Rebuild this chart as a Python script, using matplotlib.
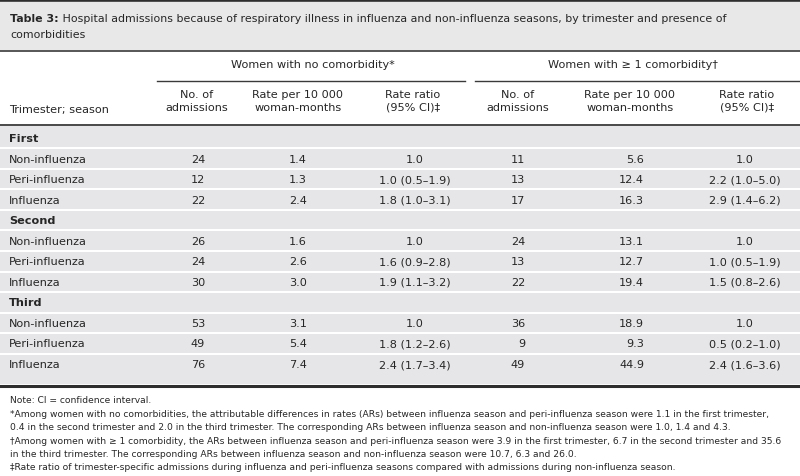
import matplotlib
matplotlib.use("Agg")
import matplotlib.pyplot as plt
from matplotlib.patches import Rectangle

# --- table content ---
trimesters = ["First", "Second", "Third"]
seasons = ["Non-influenza", "Peri-influenza", "Influenza"]

no_com_adm = [24, 12, 22, 26, 24, 30, 53, 49, 76]
no_com_rate = [1.4, 1.3, 2.4, 1.6, 2.6, 3.0, 3.1, 5.4, 7.4]
no_com_rr = ["1.0", "1.0 (0.5–1.9)", "1.8 (1.0–3.1)",
             "1.0", "1.6 (0.9–2.8)", "1.9 (1.1–3.2)",
             "1.0", "1.8 (1.2–2.6)", "2.4 (1.7–3.4)"]

com_adm = [11, 13, 17, 24, 13, 22, 36, 9, 49]
com_rate = [5.6, 12.4, 16.3, 13.1, 12.7, 19.4, 18.9, 9.3, 44.9]
com_rr = ["1.0", "2.2 (1.0–5.0)", "2.9 (1.4–6.2)",
          "1.0", "1.0 (0.5–1.9)", "1.5 (0.8–2.6)",
          "1.0", "0.5 (0.2–1.0)", "2.4 (1.6–3.6)"]

title_bold = "Table 3:"
title_rest = (" Hospital admissions because of respiratory illness in influenza and "
              "non-influenza seasons, by trimester and presence of")
title_line2 = "comorbidities"
group_titles = ["Women with no comorbidity*", "Women with ≥ 1 comorbidity†"]
col_heads = ["No. of\nadmissions", "Rate per 10 000\nwoman-months", "Rate ratio\n(95% CI)‡"]
notes = [
    "Note: CI = confidence interval.",
    "*Among women with no comorbidities, the attributable differences in rates (ARs) between influenza season and peri-influenza season were 1.1 in the first trimester,",
    "0.4 in the second trimester and 2.0 in the third trimester. The corresponding ARs between influenza season and non-influenza season were 1.0, 1.4 and 4.3.",
    "†Among women with ≥ 1 comorbidity, the ARs between influenza season and peri-influenza season were 3.9 in the first trimester, 6.7 in the second trimester and 35.6",
    "in the third trimester. The corresponding ARs between influenza season and non-influenza season were 10.7, 6.3 and 26.0.",
    "‡Rate ratio of trimester-specific admissions during influenza and peri-influenza seasons compared with admissions during non-influenza season.",
]

# --- style ---
W, H = 800, 477
txt = "#262626"
line_c = "#3a3a3a"
band = "#e6e6e8"
fs = 8.1

fig = plt.figure(figsize=(W / 100, H / 100), dpi=100)
ax = fig.add_axes([0, 0, 1, 1])
ax.set_xlim(0, W)
ax.set_ylim(H, 0)
ax.axis("off")

# title box
ax.add_patch(Rectangle((0, 2), W, 49, color="#e8e8e9", lw=0))
ax.plot([0, W], [1.2, 1.2], color="#2e2e2e", lw=2.6, solid_capstyle="butt")
ax.plot([0, W], [51.5, 51.5], color=line_c, lw=1.2)
t = ax.text(10, 22.5, title_bold, fontsize=7.95, fontweight="bold", color=txt, va="baseline")
ax.annotate(title_rest, xy=(1, 0), xycoords=t, fontsize=7.95, color=txt, va="bottom")
ax.text(10, 38.5, title_line2, fontsize=7.95, color=txt, va="baseline")

# header
group_cx = [313, 633]
for gx, g in zip(group_cx, group_titles):
    ax.text(gx, 65.5, g, fontsize=fs, color=txt, ha="center", va="center")
ax.plot([157, 465], [81.5, 81.5], color=line_c, lw=1.0)
ax.plot([475, W], [81.5, 81.5], color=line_c, lw=1.0)

head_x = [[197, 298, 413], [518, 630, 747]]
for xs in head_x:
    for hx, h in zip(xs, col_heads):
        ax.text(hx, 101.5, h, fontsize=fs, color=txt, ha="center", va="center",
                linespacing=1.3)
ax.text(9, 109.5, "Trimester; season", fontsize=fs, color=txt, va="center")
ax.plot([0, W], [125.5, 125.5], color=line_c, lw=1.3)

# body
row_h = 20.55
y0 = 139
top = 126.5
labels = []
for i, tri in enumerate(trimesters):
    labels.append((tri, None))
    for j, s in enumerate(seasons):
        labels.append((s, i * 3 + j))

for r, (lab, k) in enumerate(labels):
    yc = y0 + r * row_h
    yt = top if r == 0 else yc - row_h / 2 + 1
    yb = 385 if r == len(labels) - 1 else yc + row_h / 2 - 1
    ax.add_patch(Rectangle((0, yt), W, yb - yt, color=band, lw=0))
    bold = k is None
    ax.text(9, yc, lab, fontsize=fs, color=txt, va="center",
            fontweight="bold" if bold else "normal")
    if bold:
        continue
    ax.text(205, yc, str(no_com_adm[k]), fontsize=fs, color=txt, ha="right", va="center")
    ax.text(307, yc, f"{no_com_rate[k]:.1f}", fontsize=fs, color=txt, ha="right", va="center")
    ax.text(415, yc, no_com_rr[k], fontsize=fs, color=txt, ha="center", va="center")
    ax.text(525, yc, str(com_adm[k]), fontsize=fs, color=txt, ha="right", va="center")
    ax.text(644, yc, f"{com_rate[k]:.1f}", fontsize=fs, color=txt, ha="right", va="center")
    ax.text(745, yc, com_rr[k], fontsize=fs, color=txt, ha="center", va="center")

ax.plot([0, W], [386.5, 386.5], color="#2e2e2e", lw=2.2)

# notes
for n, note in enumerate(notes):
    ax.text(10, 401 + n * 13.4, note, fontsize=6.58, color=txt, va="center")

fig.savefig("out.png", dpi=100)
